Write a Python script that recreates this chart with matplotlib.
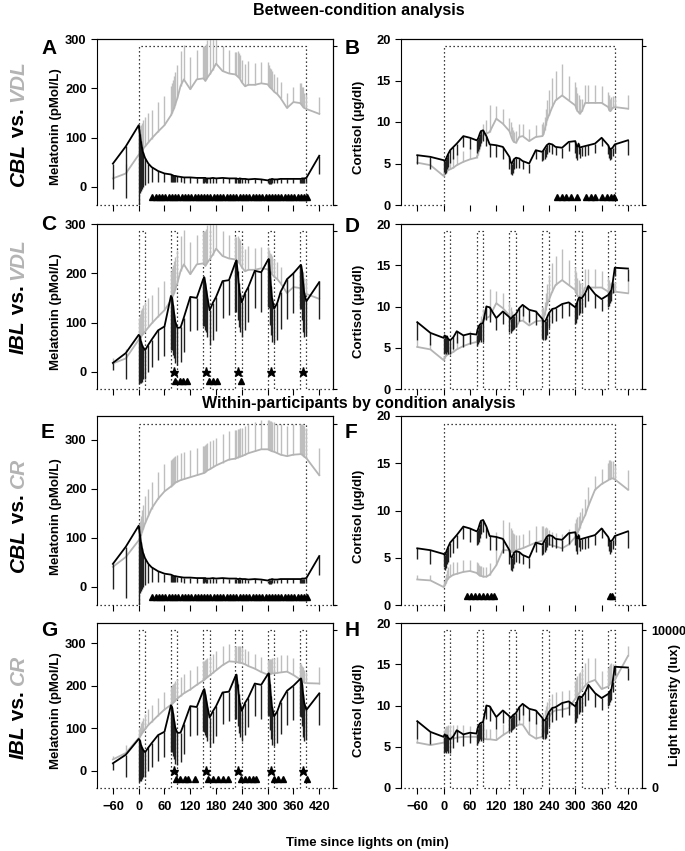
import matplotlib
matplotlib.use("Agg")
import matplotlib.pyplot as plt

plt.rcParams['font.family'] = ['Liberation Sans', 'DejaVu Sans']
plt.rcParams['font.weight'] = 'bold'
plt.rcParams['axes.labelweight'] = 'bold'

# sample times (min since lights on)
time = [-60, -30,
        0, 2.5, 5, 7.5, 10, 15, 22.5, 30, 45, 60,
        75, 77.5, 80, 82.5, 85, 90, 97.5, 105, 120, 135,
        150, 152.5, 155, 157.5, 160, 165, 172.5, 180, 195, 210,
        225, 227.5, 230, 232.5, 235, 240, 247.5, 255, 270, 285,
        300, 302.5, 305, 307.5, 310, 315, 322.5, 330, 345, 360,
        375, 377.5, 380, 382.5, 385, 390,
        420]

# ---- melatonin (pMol/L) ----
mel_cbl = [47, 82,
           125, 108, 92, 80, 70, 58, 47, 40, 32, 27,
           25, 24, 23, 22, 22, 21, 20, 19, 19, 18,
           18, 18, 18, 17, 17, 17, 18, 17, 18, 17,
           17, 17, 16, 16, 17, 16, 16, 15, 16, 15,
           13, 14, 15, 15, 16, 15, 15, 16, 16, 16,
           16, 16, 17, 17, 17, 18,
           63]
mel_cbl_err = [52, 105,
               162, 120, 100, 85, 70, 55, 40, 30, 22, 17,
               15, 14, 13, 12, 12, 12, 11, 11, 11, 10,
               10, 10, 9, 9, 10, 9, 10, 9, 10, 9,
               9, 9, 9, 8, 9, 8, 9, 8, 9, 8,
               6, 8, 9, 9, 9, 8, 8, 9, 9, 9,
               9, 9, 9, 10, 10, 10,
               38]
mel_vdl = [17, 27,
           65, 68, 71, 74, 77, 82, 90, 98, 112, 125,
           145, 150, 155, 160, 167, 180, 205, 218, 198, 218,
           220, 218, 215, 218, 222, 228, 238, 250, 235, 230,
           228, 226, 224, 222, 220, 212, 204, 207, 207, 210,
           208, 205, 202, 200, 198, 193, 188, 180, 160, 172,
           170, 168, 165, 162, 160, 158,
           148]
mel_vdl_err = [10, 20,
               45, 50, 55, 55, 58, 60, 60, 58, 60, 60,
               60, 60, 62, 65, 65, 68, 70, 70, 65, 60,
               65, 68, 70, 72, 75, 80, 70, 60, 50, 48,
               45, 48, 52, 50, 48, 46, 45, 48, 45, 43,
               45, 42, 40, 40, 38, 35, 35, 33, 30, 30,
               40, 42, 38, 40, 30, 30,
               35]
mel_ibl = [18, 38,
           75, 72, 62, 55, 50, 44, 55, 65, 84, 92,
           154, 150, 135, 118, 102, 89, 90, 110, 152, 150,
           188, 192, 180, 165, 150, 125, 140, 152, 184, 186,
           222, 226, 205, 180, 160, 141, 160, 172, 205, 202,
           226, 229, 205, 175, 150, 128, 140, 162, 188, 200,
           215, 217, 205, 180, 160, 143,
           182]
mel_ibl_err = [15, 52,
               100, 95, 85, 75, 65, 58, 55, 55, 60, 60,
               110, 105, 100, 90, 85, 75, 70, 70, 70, 65,
               95, 100, 95, 85, 80, 70, 75, 70, 75, 70,
               100, 105, 100, 90, 80, 70, 75, 70, 75, 80,
               95, 100, 110, 100, 90, 70, 75, 75, 80, 80,
               85, 90, 100, 100, 90, 70,
               75]
mel_cr_cbl = [41, 61,
              95, 100, 105, 112, 118, 130, 145, 160, 180, 195,
              205, 207, 209, 211, 213, 215, 218, 220, 224, 228,
              232, 233, 234, 236, 238, 240, 244, 248, 254, 260,
              262, 263, 264, 265, 266, 267, 270, 273, 277, 281,
              281, 280, 279, 278, 277, 276, 273, 270, 267, 270,
              271, 271, 270, 268, 266, 263,
              228]
mel_cr_cbl_err = [10, 15,
                  30, 35, 40, 45, 50, 55, 55, 55, 55, 55,
                  55, 55, 55, 55, 55, 55, 55, 55, 55, 55,
                  55, 55, 56, 56, 56, 57, 57, 57, 58, 58,
                  58, 58, 58, 58, 58, 58, 58, 60, 60, 60,
                  60, 60, 60, 60, 60, 60, 60, 62, 62, 62,
                  62, 62, 62, 62, 62, 62,
                  55]
mel_cr_ibl = [27, 42,
              77, 80, 84, 88, 92, 98, 108, 115, 130, 144,
              155, 157, 160, 162, 165, 170, 176, 182, 191, 202,
              212, 214, 216, 218, 220, 224, 230, 236, 248, 257,
              256, 255, 255, 254, 254, 253, 250, 246, 240, 232,
              226, 227, 228, 228, 229, 229, 230, 231, 233, 225,
              215, 213, 211, 209, 207, 206,
              205]
mel_cr_ibl_err = [8, 20,
                  22, 24, 28, 30, 32, 35, 38, 40, 42, 40,
                  42, 45, 45, 45, 45, 45, 45, 45, 45, 45,
                  45, 45, 45, 45, 45, 45, 45, 45, 45, 40,
                  38, 38, 38, 38, 38, 38, 36, 36, 35, 35,
                  35, 35, 35, 35, 35, 35, 38, 40, 40, 40,
                  38, 38, 35, 35, 30, 25,
                  38]

# ---- cortisol (ug/dl) ----
cort_cbl = [6.0, 5.8,
            5.4, 5.3, 5.5, 5.8, 6.1, 6.6, 7.0, 7.4, 8.3, 8.1,
            7.8, 7.9, 8.2, 8.6, 8.9, 9.0, 8.3, 7.3, 7.2, 7.0,
            5.8, 5.2, 5.0, 5.2, 5.5, 5.7, 5.6, 5.3, 5.0, 6.6,
            6.4, 6.6, 6.8, 7.0, 7.2, 7.4, 7.3, 7.0, 6.9, 7.6,
            7.7, 7.2, 7.0, 7.4, 6.9, 7.0, 7.1, 7.2, 7.4, 8.1,
            7.2, 6.9, 6.7, 6.8, 6.9, 7.3,
            7.8]
cort_cbl_err = [1.1, 1.5,
                1.4, 1.6, 1.6, 1.5, 1.5, 1.5, 1.5, 1.4, 1.3, 1.4,
                1.5, 1.4, 1.5, 1.5, 1.4, 1.3, 1.2, 1.5, 1.4, 1.5,
                1.5, 1.5, 1.4, 1.3, 1.2, 1.2, 1.2, 1.0, 1.1, 1.0,
                1.1, 1.2, 1.2, 1.2, 1.1, 1.0, 1.2, 1.0, 1.2, 1.1,
                1.4, 1.5, 1.6, 1.3, 1.2, 1.1, 1.2, 1.2, 1.1, 1.0,
                1.0, 1.2, 1.3, 1.2, 1.0, 1.0,
                1.8]
cort_vdl = [5.1, 4.8,
            3.5, 3.8, 4.0, 4.1, 4.2, 4.3, 4.5, 4.8, 5.2, 5.5,
            5.7, 6.0, 6.5, 7.0, 7.6, 8.4, 8.6, 8.8, 10.4, 9.8,
            8.9, 8.5, 8.1, 7.8, 7.6, 7.5, 8.2, 8.3, 7.7, 8.2,
            8.3, 8.5, 9.0, 9.6, 10.2, 10.8, 11.8, 12.6, 13.2, 12.6,
            12.0, 11.6, 11.3, 11.2, 11.0, 11.3, 12.3, 12.3, 12.3, 12.3,
            11.8, 11.4, 11.3, 11.5, 11.7, 11.8,
            11.6]
cort_vdl_err = [0.8, 0.8,
                0.5, 0.7, 0.8, 0.9, 1.0, 1.2, 1.4, 1.5, 1.3, 1.5,
                1.6, 1.4, 1.2, 1.2, 1.2, 1.3, 1.6, 3.3, 1.5, 1.8,
                1.6, 1.5, 1.3, 1.2, 1.2, 1.4, 1.5, 1.5, 1.4, 1.4,
                1.5, 1.5, 1.6, 2.0, 2.5, 3.0, 3.5, 3.5, 3.8, 3.0,
                2.8, 2.6, 2.2, 2.0, 1.8, 1.5, 2.2, 2.2, 2.2, 2.0,
                1.8, 1.8, 1.5, 1.5, 1.4, 1.2,
                1.7]
cort_ibl = [8.1, 6.8,
            6.2, 6.5, 6.3, 6.4, 6.1, 5.9, 6.3, 7.0, 6.5, 6.7,
            6.6, 7.2, 7.6, 7.8, 7.9, 8.0, 10.0, 9.9, 8.6, 9.4,
            8.7, 8.5, 8.6, 8.8, 8.9, 9.1, 9.8, 10.2, 9.6, 9.4,
            8.5, 8.2, 8.2, 8.3, 8.6, 9.2, 9.7, 9.8, 10.3, 10.5,
            9.9, 10.2, 10.6, 11.0, 11.1, 11.0, 11.6, 12.5, 11.5, 10.9,
            11.4, 11.6, 11.8, 12.0, 12.8, 14.7,
            14.6]
cort_ibl_err = [2.2, 1.5,
                2.0, 2.1, 2.0, 1.9, 1.8, 1.6, 1.5, 1.4, 1.4, 1.3,
                1.4, 1.8, 1.9, 1.9, 2.2, 2.3, 1.6, 1.8, 1.5, 1.5,
                1.8, 1.7, 1.6, 1.6, 1.6, 1.6, 1.5, 1.4, 1.5, 1.6,
                2.3, 2.3, 2.2, 2.2, 2.0, 1.8, 1.7, 1.6, 1.7, 1.6,
                2.0, 2.2, 2.1, 2.0, 1.9, 1.8, 1.7, 1.8, 1.7, 1.5,
                1.5, 1.5, 1.4, 1.3, 1.2, 1.0,
                1.5]
cort_cr_cbl = [2.7, 2.6,
               1.9, 2.1, 2.3, 2.6, 2.8, 3.0, 3.2, 3.3, 3.5, 3.6,
               3.4, 3.3, 3.2, 3.1, 3.1, 3.0, 3.0, 3.2, 4.2, 5.8,
               5.8, 5.7, 5.6, 5.6, 5.7, 5.8, 5.9, 6.0, 6.3, 6.6,
               6.8, 6.8, 6.7, 6.7, 6.6, 6.4, 6.3, 6.2, 6.0, 6.4,
               7.2, 7.4, 7.6, 7.9, 8.2, 8.8, 9.5, 10.5, 12.2, 12.8,
               13.2, 13.3, 13.3, 13.4, 13.4, 13.3,
               12.2]
cort_cr_cbl_err = [0.5, 0.6,
                   0.6, 0.8, 1.0, 1.1, 1.2, 1.3, 1.3, 1.3, 1.3, 1.2,
                   1.2, 1.1, 1.0, 1.0, 1.0, 1.0, 1.0, 1.2, 3.5, 3.2,
                   3.0, 2.5, 2.3, 2.0, 1.8, 1.6, 1.5, 1.5, 1.6, 1.8,
                   1.6, 1.6, 1.5, 1.6, 1.5, 1.5, 1.4, 1.4, 1.5, 1.6,
                   1.5, 1.7, 1.7, 1.5, 1.6, 1.5, 1.7, 2.0, 1.5, 1.6,
                   1.8, 2.0, 2.0, 1.8, 1.8, 1.5,
                   2.1]
cort_cr_ibl = [5.5, 5.2,
               5.5, 5.6, 5.7, 5.7, 5.8, 5.9, 6.0, 6.1, 6.2, 6.2,
               6.2, 6.1, 6.1, 6.0, 6.0, 6.0, 5.9, 5.9, 5.8, 6.4,
               6.9, 7.0, 7.1, 7.2, 7.3, 7.5, 7.7, 7.7, 6.5, 6.0,
               6.2, 6.6, 7.0, 7.5, 8.0, 8.6, 9.2, 9.4, 9.5, 9.7,
               10.8, 11.0, 11.2, 11.4, 11.6, 11.9, 12.4, 12.8, 13.1, 12.0,
               12.3, 12.5, 12.7, 12.9, 13.0, 13.1,
               16.0]
cort_cr_ibl_err = [0.5, 0.6,
                   1.5, 1.7, 1.8, 1.8, 1.8, 1.7, 1.6, 1.5, 1.4, 1.3,
                   1.4, 1.5, 1.5, 1.5, 1.5, 1.4, 1.3, 1.3, 1.3, 1.3,
                   1.5, 1.6, 1.7, 1.8, 1.8, 1.9, 1.9, 2.0, 2.1, 2.0,
                   2.3, 2.4, 2.4, 2.4, 2.4, 2.3, 2.2, 2.2, 2.2, 2.2,
                   2.2, 2.3, 2.4, 2.5, 2.5, 2.6, 2.8, 2.9, 2.6, 2.2,
                   2.2, 2.3, 2.3, 2.3, 2.0, 1.9,
                   1.2]

# ---- light protocol ----
light_lux = 10000
cbl_on = (0, 390)
ibl_pulse_start = [0, 75, 150, 225, 300, 375]
ibl_pulse_len = 15

# ---- significance markers (times, min) ----
tri_cbl_mel = [32, 40, 47, 55, 62, 70, 77, 85, 92, 100, 107, 115, 122, 130, 137, 145,
               152, 160, 167, 175, 182, 190, 197, 205, 212, 220, 227, 235, 242, 250,
               257, 265, 272, 280, 287, 295, 302, 310, 317, 325, 332, 340, 347, 355,
               362, 370, 377, 385, 392]
tri_B = [258, 269, 280, 290, 305, 324, 335, 345, 362, 372, 382, 389]
star_ibl = [82, 157, 232, 307, 382]
tri_C = [85, 95, 103, 112, 164, 174, 183, 239]
tri_F = [53, 62, 71, 80, 89, 98, 107, 115, 378, 384]
tri_G = [87, 97, 107, 115, 131, 162, 174, 185, 195, 207, 237, 247, 257, 266, 274,
         314, 325, 335, 391]

xticks = [-60, 0, 60, 120, 180, 240, 300, 360, 420]

W, H = 685, 851
fig = plt.figure(figsize=(W / 100, H / 100), dpi=100)

BLACK = '#000000'
BLACK_ERR = '#202020'
GREY = '#b4b4b4'
GREY_ERR = '#bebebe'


def px_rect(l, t, r, b):
    return [l / W, 1 - b / H, (r - l) / W, (b - t) / H]


def light_trace(kind):
    if kind == 'cbl':
        xs = [-100, cbl_on[0], cbl_on[0], cbl_on[1], cbl_on[1], 460]
        ys = [0, 0, light_lux, light_lux, 0, 0]
    else:
        xs, ys = [-100], [0]
        for s in ibl_pulse_start:
            xs += [s, s, s + ibl_pulse_len, s + ibl_pulse_len]
            ys += [0, light_lux, light_lux, 0]
        xs.append(460)
        ys.append(0)
    return xs, ys


def panel(rect, letter, letter_y, ylim, yticks, ylabel, black, black_err, grey, grey_err,
          light, tris=None, tri_y=0, stars=None, star_y=0, bottom_row=False, lux_labels=False):
    ax = fig.add_axes(px_rect(*rect))
    ax2 = ax.twinx()
    ax2.set_ylim(0, 10450)
    ax2.set_yticks([0, 10000])
    ax2.tick_params(axis='y', direction='out', length=3, width=0.8, labelsize=9,
                    labelright=lux_labels)
    for sp in ['left', 'bottom']:
        ax2.spines[sp].set_visible(False)
    lx, ly = light_trace(light)
    ax2.plot(lx, ly, color='black', lw=0.9, linestyle=(0, (1, 2.2)), clip_on=False)
    if lux_labels:
        ax2.set_ylabel('Light Intensity (lux)', fontsize=9.5, fontweight='bold')
        ax2.yaxis.set_label_coords(1.11, 0.5)

    ax.set_zorder(ax2.get_zorder() + 1)
    ax.patch.set_visible(False)

    # grey series (error bars up), black series (error bars down)
    ax.vlines(time, grey, [m + e for m, e in zip(grey, grey_err)], color=GREY_ERR, lw=1.0, zorder=1)
    ax.plot(time, grey, color=GREY, lw=1.3, zorder=2)
    ax.vlines(time, [m - e for m, e in zip(black, black_err)], black, color=BLACK_ERR, lw=1.0, zorder=3)
    ax.plot(time, black, color=BLACK, lw=1.3, zorder=4)

    if tris:
        ax.plot(tris, [tri_y] * len(tris), linestyle='none', marker='^', ms=4.2,
                color='black', zorder=5)
    if stars:
        ax.plot(stars, [star_y] * len(stars), linestyle='none', marker='*', ms=6.5,
                color='black', zorder=5)

    ax.set_xlim(-97, 452)
    ax.set_ylim(*ylim)
    ax.set_yticks(yticks)
    ax.set_xticks(xticks)
    ax.spines['bottom'].set_visible(False)
    ax.tick_params(axis='both', direction='out', length=4, width=0.8, labelsize=9.3)
    ax.tick_params(axis='x', labelbottom=bottom_row, pad=5)
    for t in ax.get_yticklabels() + ax.get_xticklabels() + ax2.get_yticklabels():
        t.set_fontweight('bold')
    ax.set_ylabel(ylabel, fontsize=9.5, fontweight='bold')
    ax.yaxis.set_label_coords(-0.148, 0.47)
    fig.text((rect[0] - 56) / W, 1 - letter_y / H, letter, fontsize=15, fontweight='bold',
             ha='left', va='center')
    return ax


mel_label = 'Melatonin (pMol/L)'
cort_label = 'Cortisol (\u00b5g/dl)'
c1 = (97, 333)
c2 = (401, 642)
rows = [(39, 205), (224, 389), (416, 605), (623, 788)]
cort_ticks = [0, 5, 10, 15, 20]
mel_ticks = [0, 100, 200, 300]

panel((c1[0], rows[0][0], c1[1], rows[0][1]), 'A', 49, (-37, 300), mel_ticks, mel_label,
      mel_cbl, mel_cbl_err, mel_vdl, mel_vdl_err, 'cbl', tris=tri_cbl_mel, tri_y=-20)
panel((c2[0], rows[0][0], c2[1], rows[0][1]), 'B', 49, (0, 20), cort_ticks, cort_label,
      cort_cbl, cort_cbl_err, cort_vdl, cort_vdl_err, 'cbl', tris=tri_B, tri_y=1)
panel((c1[0], rows[1][0], c1[1], rows[1][1]), 'C', 225, (-35, 300), mel_ticks, mel_label,
      mel_ibl, mel_ibl_err, mel_vdl, mel_vdl_err, 'ibl', tris=tri_C, tri_y=-19,
      stars=star_ibl, star_y=0)
panel((c2[0], rows[1][0], c2[1], rows[1][1]), 'D', 227, (0, 20), cort_ticks, cort_label,
      cort_ibl, cort_ibl_err, cort_vdl, cort_vdl_err, 'ibl')
panel((c1[0], rows[2][0], c1[1], rows[2][1]), 'E', 432, (-37, 349), mel_ticks, mel_label,
      mel_cbl, mel_cbl_err, mel_cr_cbl, mel_cr_cbl_err, 'cbl', tris=tri_cbl_mel, tri_y=-20)
panel((c2[0], rows[2][0], c2[1], rows[2][1]), 'F', 432, (0, 20), cort_ticks, cort_label,
      cort_cbl, cort_cbl_err, cort_cr_cbl, cort_cr_cbl_err, 'cbl', tris=tri_F, tri_y=1)
panel((c1[0], rows[3][0], c1[1], rows[3][1]), 'G', 631, (-40, 347), mel_ticks, mel_label,
      mel_ibl, mel_ibl_err, mel_cr_ibl, mel_cr_ibl_err, 'ibl', tris=tri_G, tri_y=-19,
      stars=star_ibl, star_y=0, bottom_row=True)
panel((c2[0], rows[3][0], c2[1], rows[3][1]), 'H', 630, (0, 20), cort_ticks, cort_label,
      cort_ibl, cort_ibl_err, cort_cr_ibl, cort_cr_ibl_err, 'ibl', bottom_row=True,
      lux_labels=True)

# headers
fig.text(359 / W, 1 - 10 / H, 'Between-condition analysis', fontsize=11.5, fontweight='bold',
         ha='center', va='center')
fig.text(359 / W, 1 - 404 / H, 'Within-participants by condition analysis', fontsize=11.5,
         fontweight='bold', ha='center', va='center')
fig.text(367 / W, 1 - 843 / H, 'Time since lights on (min)', fontsize=9.5, fontweight='bold',
         ha='center', va='center')

# row labels (mixed style, rotated)
renderer = fig.canvas.get_renderer()
row_labels = [
    (123, [('CBL', 'italic', 'black'), (' vs. ', 'normal', 'black'), ('VDL', 'italic', GREY)]),
    (296, [('IBL', 'italic', 'black'), (' vs. ', 'normal', 'black'), ('VDL', 'italic', GREY)]),
    (515, [('CBL', 'italic', 'black'), (' vs. ', 'normal', 'black'), ('CR', 'italic', GREY)]),
    (707, [('IBL', 'italic', 'black'), (' vs. ', 'normal', 'black'), ('CR', 'italic', GREY)]),
]
for yc, parts in row_labels:
    objs = [fig.text(18 / W, 0, s, rotation=90, ha='center', va='bottom', fontsize=15,
                     fontweight='bold', style=st, color=c) for s, st, c in parts]
    hs = [o.get_window_extent(renderer).height for o in objs]
    y = H - yc - sum(hs) / 2
    for o, h in zip(objs, hs):
        o.set_y(y / H)
        y += h

fig.savefig('out.png', dpi=100)
